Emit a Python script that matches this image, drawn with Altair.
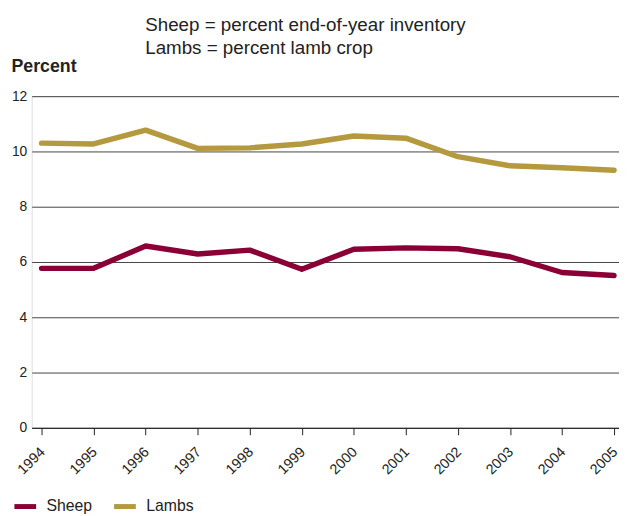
import altair as alt
import pandas as pd

YEARS = [1994, 1995, 1996, 1997, 1998, 1999, 2000, 2001, 2002, 2003, 2004, 2005]
SHEEP = [5.77, 5.77, 6.58, 6.29, 6.43, 5.74, 6.46, 6.51, 6.48, 6.19, 5.62, 5.51]
LAMBS = [10.30, 10.27, 10.77, 10.11, 10.13, 10.27, 10.56, 10.48, 9.81, 9.48, 9.41, 9.32]
SERIES = ["Sheep", "Lambs"]
COLORS = ["#8a0036", "#b5993e"]
Y_TICKS = [0, 2, 4, 6, 8, 10, 12]
NOTE_LINES = ["Sheep = percent end-of-year inventory", "Lambs = percent lamb crop"]
Y_TITLE = "Percent"

FONT = "Liberation Sans"

rows = []
for name, vals in zip(SERIES, [SHEEP, LAMBS]):
    for yr, v in zip(YEARS, vals):
        rows.append({"year": yr, "value": v, "series": name})
df = pd.DataFrame(rows)

lines = alt.Chart(df).mark_line(strokeWidth=5.5, strokeCap="round", strokeJoin="round").encode(
    x=alt.X("year:Q",
            scale=alt.Scale(domain=[1993.81, 2005.095], nice=False, zero=False),
            axis=alt.Axis(values=YEARS, format="d", title=None, grid=False,
                          labelAngle=-45, labelAlign="right", labelBaseline="middle",
                          labelPadding=15, labelOffset=1, labelFlush=False, labelOverlap=False,
                          labelFont=FONT, labelFontSize=14.5, labelColor="#222",
                          tickSize=7, tickColor="#222", domainColor="#222",
                          domainWidth=1, tickWidth=1)),
    y=alt.Y("value:Q",
            scale=alt.Scale(domain=[0, 12], nice=False),
            axis=alt.Axis(values=Y_TICKS, title=Y_TITLE, titleAngle=0,
                          titleAlign="left", titleBaseline="alphabetic",
                          titleX=-21, titleY=-25, titleFont=FONT, titleFontSize=18,
                          titleFontWeight="bold", titleColor="#222",
                          labelFont=FONT, labelFontSize=14, labelColor="#222",
                          labelPadding=5, ticks=False, domain=False,
                          grid=True, gridColor="#444", gridWidth=1)),
    color=alt.Color("series:N",
                    scale=alt.Scale(domain=SERIES, range=COLORS),
                    sort=SERIES,
                    legend=alt.Legend(title=None, orient="none", direction="horizontal",
                                      legendX=-20, legendY=402,
                                      symbolType="stroke", symbolStrokeWidth=5,
                                      symbolSize=484, labelOffset=8, columnPadding=11,
                                      labelFont=FONT, labelFontSize=16, labelColor="#222",
                                      padding=0)),
    detail="series:N",
)

note1 = alt.Chart(pd.DataFrame({"t": [NOTE_LINES[0]]})).mark_text(
    align="left", baseline="alphabetic", font=FONT, fontSize=19, color="#222"
).encode(text="t:N", x=alt.value(115), y=alt.value(-66))

note2 = alt.Chart(pd.DataFrame({"t": [NOTE_LINES[1]]})).mark_text(
    align="left", baseline="alphabetic", font=FONT, fontSize=19, color="#222"
).encode(text="t:N", x=alt.value(115), y=alt.value(-43))

chart = alt.layer(lines, note1, note2).properties(
    width=595, height=336,
    autosize=alt.AutoSizeParams(type="none"),
    padding={"left": 24, "top": 86, "right": 0, "bottom": 86},
).configure_view(stroke=None).configure(background="white")

chart.save("out.html", embed_options={"renderer": "svg", "actions": False})
